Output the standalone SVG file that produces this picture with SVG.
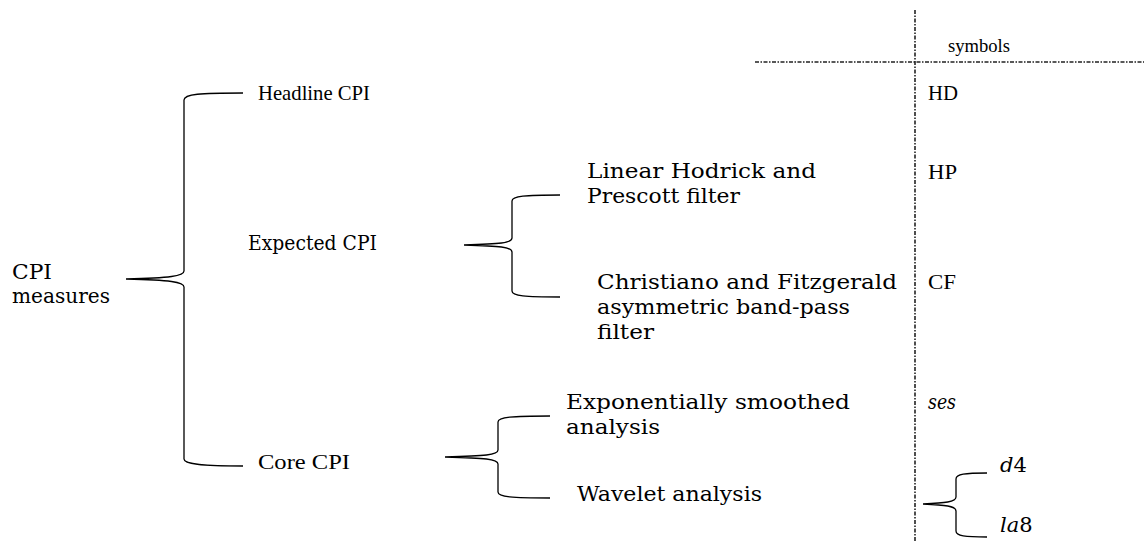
<svg xmlns="http://www.w3.org/2000/svg" width="1144" height="541" viewBox="0 0 1144 541">
<style>
.p{font-family:"DejaVu Serif","Liberation Serif",serif;font-size:21px;fill:#000}
.t{font-family:"Liberation Serif",serif;font-size:22px;fill:#000}
.s{font-family:"Liberation Serif",serif;font-size:18px;fill:#000}
.br{fill:none;stroke:#000;stroke-width:1.3}
.dd{fill:none;stroke:#222;stroke-width:1.6;stroke-dasharray:4 1.5 1.5 1.5}
</style>
<rect width="1144" height="541" fill="#fff"/>
<g id="guides">
<line class="dd" x1="915" y1="10" x2="915" y2="541"/>
<line class="dd" x1="755" y1="62" x2="1144" y2="62"/>
</g>
<g id="connectors">
<path class="br" d="M243,93 C200,93 184,94 184,100 L184,271 C184,276 170,278 126,279 C170,280 184,282 184,287 L184,459 C184,464 200,466 243,466"/>
<path class="br" d="M560,195 C525,195 512,196 512,201 L512,238 C512,243 500,244 464,245 C500,246 512,247 512,252 L512,291 C512,296 525,297 560,297"/>
<path class="br" d="M550,416 C512,416 498,417 498,422 L498,450 C498,455 485,456 445,457 C485,458 498,459 498,464 L498,492 C498,497 512,498 550,498"/>
<path class="br" d="M987,473 C965,473 956,474 956,479 L956,497 C956,502 945,503 923,504 C945,505 956,506 956,511 L956,531 C956,536 965,537 987,537"/>
</g>
<g id="root"><text class="p" x="12" y="279" textLength="40" lengthAdjust="spacingAndGlyphs">CPI</text><text class="p" x="12" y="303" textLength="98" lengthAdjust="spacingAndGlyphs">measures</text></g>
<g id="headline"><text class="t" x="258" y="100" textLength="112" lengthAdjust="spacingAndGlyphs">Headline CPI</text></g>
<g id="expected"><text class="p" x="248" y="250" textLength="129" lengthAdjust="spacingAndGlyphs">Expected CPI</text></g>
<g id="core"><text class="t" x="258" y="469" textLength="92" lengthAdjust="spacingAndGlyphs">Core CPI</text></g>
<g id="hp"><text class="p" x="587" y="178" textLength="229" lengthAdjust="spacingAndGlyphs">Linear Hodrick and</text><text class="p" x="587" y="203" textLength="153" lengthAdjust="spacingAndGlyphs">Prescott filter</text></g>
<g id="cf"><text class="p" x="597" y="289" textLength="300" lengthAdjust="spacingAndGlyphs">Christiano and Fitzgerald</text><text class="p" x="597" y="314" textLength="253" lengthAdjust="spacingAndGlyphs">asymmetric band-pass</text><text class="p" x="597" y="339" textLength="57" lengthAdjust="spacingAndGlyphs">filter</text></g>
<g id="ses"><text class="p" x="566" y="409" textLength="284" lengthAdjust="spacingAndGlyphs">Exponentially smoothed</text><text class="p" x="566" y="434" textLength="94" lengthAdjust="spacingAndGlyphs">analysis</text></g>
<g id="wavelet"><text class="p" x="577" y="501" textLength="185" lengthAdjust="spacingAndGlyphs">Wavelet analysis</text></g>
<g id="symbols">
<text class="s" x="948" y="52" textLength="62" lengthAdjust="spacingAndGlyphs">symbols</text>
<text class="t" x="928" y="100" textLength="30" lengthAdjust="spacingAndGlyphs">HD</text>
<text class="t" x="928" y="179" textLength="29" lengthAdjust="spacingAndGlyphs">HP</text>
<text class="t" x="928" y="289" textLength="28" lengthAdjust="spacingAndGlyphs">CF</text>
<text class="p" x="928" y="409" font-style="italic" textLength="28" lengthAdjust="spacingAndGlyphs">ses</text>
<text class="p" x="1000" y="472"><tspan font-style="italic">d</tspan>4</text>
<text class="p" x="1000" y="532"><tspan font-style="italic">la</tspan>8</text>
</g>
</svg>
